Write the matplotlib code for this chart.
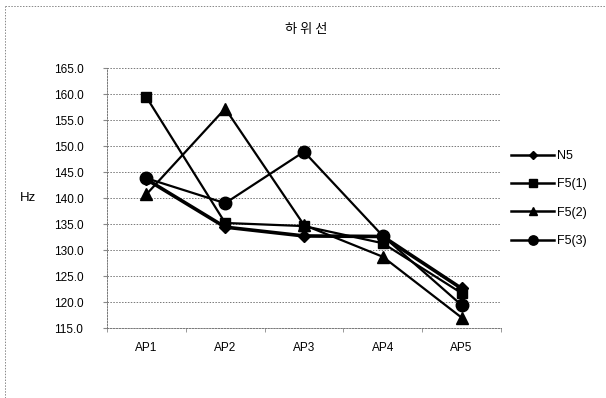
import matplotlib
matplotlib.use("Agg")
import matplotlib.pyplot as plt
from matplotlib.lines import Line2D

plt.rcParams['font.family'] = ['Liberation Sans', 'Noto Sans CJK KR', 'DejaVu Sans']

categories = ["AP1", "AP2", "AP3", "AP4", "AP5"]
n5 = [143.6, 134.4, 132.7, 132.6, 122.6]
f5_1 = [159.4, 135.2, 134.6, 131.3, 121.7]
f5_2 = [140.7, 157.2, 134.8, 128.7, 117.0]
f5_3 = [143.8, 139.0, 148.9, 132.7, 119.4]
series_names = ["N5", "F5(1)", "F5(2)", "F5(3)"]
y_ticks = [115.0, 120.0, 125.0, 130.0, 135.0, 140.0, 145.0, 150.0, 155.0, 160.0, 165.0]

W, H = 606, 398
fig = plt.figure(figsize=(W / 100, H / 100), dpi=100)
ax = fig.add_axes([107 / W, 1 - 328 / H, (501 - 107) / W, (328 - 68) / H])

x = list(range(len(categories)))
styles = [
    (n5, "D", 6, 2.6),
    (f5_1, "s", 7, 1.6),
    (f5_2, "^", 8, 1.6),
    (f5_3, "o", 9, 1.6),
]
for (vals, mk, ms, lw), name in zip(styles, series_names):
    ax.plot(x, vals, color="black", marker=mk, markersize=ms, linewidth=lw,
            label=name, zorder=3)

ax.set_xlim(-0.5, len(categories) - 0.5)
ax.set_ylim(115, 165)
ax.set_yticks(y_ticks)
ax.set_yticklabels([f"{v:.1f}" for v in y_ticks], fontsize=8.5)
ax.set_xticks(x)
ax.set_xticklabels(categories, fontsize=8.5)
ax.set_xticks([i + 0.5 for i in range(-1, len(categories))], minor=True)
ax.tick_params(axis="x", which="major", length=0, pad=10)
ax.tick_params(axis="x", which="minor", length=3, color="#888888")
ax.tick_params(axis="y", length=3, color="#888888", pad=14)

ax.grid(axis="y", linestyle=(0, (1.5, 1.5)), color="#777777", linewidth=0.7)
for side in ["top", "right"]:
    ax.spines[side].set_visible(False)
for side in ["left", "bottom"]:
    ax.spines[side].set_linestyle((0, (1.5, 1.5)))
    ax.spines[side].set_color("#777777")
    ax.spines[side].set_linewidth(0.7)

ax.set_ylabel("Hz", rotation=0, fontsize=9.5, va="center")
ax.yaxis.set_label_coords(-0.2, 0.5)

fig.text(306 / W, 1 - 30 / H, "하 위 선", ha="center", va="center", fontsize=9.5,
         family=['Noto Sans CJK KR', 'DejaVu Sans'])

handles = [Line2D([0], [0], color="black", marker=mk, markersize=ms * 0.75,
                  linewidth=1.8) for (_, mk, ms, _) in styles]
fig.legend(handles, series_names, loc="upper left",
           bbox_to_anchor=(500 / W, 1 - 139 / H), frameon=False,
           fontsize=9, handlelength=3.4, handletextpad=0.25,
           labelspacing=1.3)

# outer chart-area border (top and left edges)
fig.add_artist(Line2D([5 / W, 1], [1 - 6 / H, 1 - 6 / H], transform=fig.transFigure,
                      color="#888888", linewidth=0.7, linestyle=(0, (1.5, 1.5))))
fig.add_artist(Line2D([5 / W, 5 / W], [0, 1 - 6 / H], transform=fig.transFigure,
                      color="#888888", linewidth=0.7, linestyle=(0, (1.5, 1.5))))

fig.savefig("out.png", dpi=100)
